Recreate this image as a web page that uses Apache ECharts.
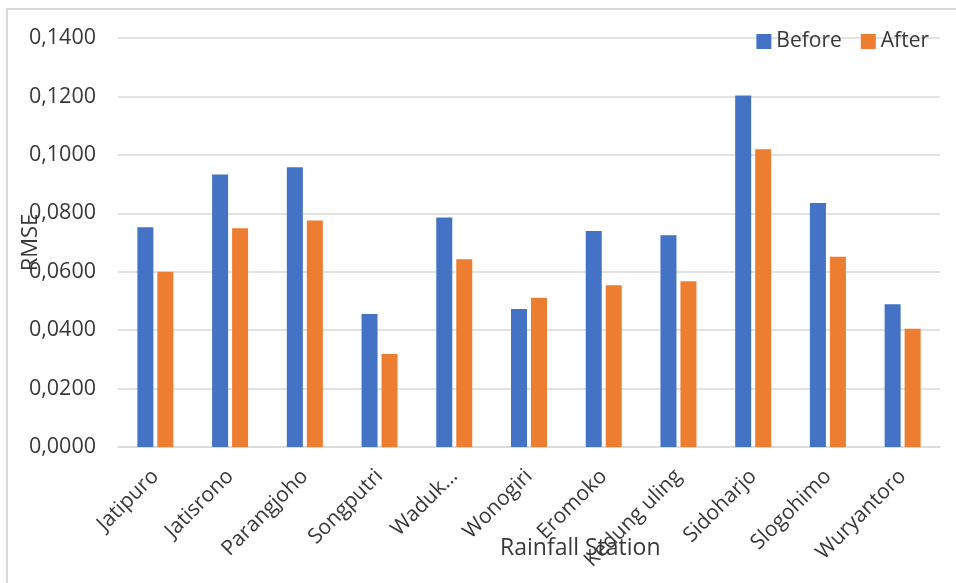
<!DOCTYPE html>
<html>
<head>
<meta charset="utf-8">
<script src="https://cdn.jsdelivr.net/npm/echarts@6/dist/echarts.min.js"></script>
<style>
  html, body { margin: 0; padding: 0; background: #ffffff; }
  #chart { width: 956px; height: 583px; }
</style>
</head>
<body>
<div id="chart"></div>
<script>
// RMSE per rainfall station, before and after correction
const stations = ['Jatipuro', 'Jatisrono', 'Parangjoho', 'Songputri', 'Waduk…', 'Wonogiri', 'Eromoko', 'Kedung uling', 'Sidoharjo', 'Slogohimo', 'Wuryantoro'];
const before = [0.0752, 0.0933, 0.0958, 0.0455, 0.0786, 0.0472, 0.0739, 0.0725, 0.1203, 0.0835, 0.0489];
const after  = [0.0600, 0.0749, 0.0775, 0.0318, 0.0643, 0.0511, 0.0554, 0.0567, 0.1019, 0.0651, 0.0405];

const FONT = '"Open Sans", "Noto Sans", sans-serif';
const TEXT = '#383838';
const GRID = '#d9d9d9';

const chart = echarts.init(document.getElementById('chart'), null, { renderer: 'canvas' });
chart.setOption({
  backgroundColor: '#ffffff',
  animation: false,
  textStyle: { fontFamily: FONT, color: TEXT },
  grid: { left: 118, right: 16, top: 38, bottom: 136, containLabel: false, outerBoundsMode: 'none' },
  legend: {
    data: ['Before', 'After'],
    right: 22, top: 26,
    itemWidth: 15, itemHeight: 15, itemGap: 19,
    icon: 'rect',
    textStyle: { fontFamily: FONT, fontSize: 21, color: TEXT }
  },
  xAxis: {
    type: 'category',
    data: stations,
    axisLine: { lineStyle: { color: GRID, width: 1.5 } },
    axisTick: { show: false },
    axisLabel: { rotate: 45, margin: 26, interval: 0, fontFamily: FONT, fontSize: 21, color: TEXT }
  },
  yAxis: {
    type: 'value',
    min: 0, max: 0.14, interval: 0.02,
    name: 'RMSE',
    nameLocation: 'middle',
    nameGap: 76,
    nameRotate: 90,
    nameMoveOverlap: false,
    nameTextStyle: { fontFamily: FONT, fontSize: 22, color: TEXT },
    axisLine: { show: false },
    axisTick: { show: false },
    splitLine: { lineStyle: { color: GRID, width: 1.5 } },
    axisLabel: {
      margin: 22, fontFamily: FONT, fontSize: 21.5, color: TEXT,
      formatter: v => v.toFixed(4).replace('.', ',')
    }
  },
  series: [
    { name: 'Before', type: 'bar', data: before, barWidth: 16, barGap: '25%',
      itemStyle: { color: '#4472C4' } },
    { name: 'After', type: 'bar', data: after, barWidth: 16,
      itemStyle: { color: '#ED7D31' } }
  ],
  graphic: [
    { type: 'rect', shape: { x: 7, y: 9, width: 1000, height: 700 }, silent: true,
      style: { fill: 'none', stroke: GRID, lineWidth: 2 } },
    { type: 'text', left: 500, top: 537, silent: true,
      style: { text: 'Rainfall Station', fontFamily: FONT, fontSize: 23, fill: TEXT } }
  ]
});
</script>
</body>
</html>
